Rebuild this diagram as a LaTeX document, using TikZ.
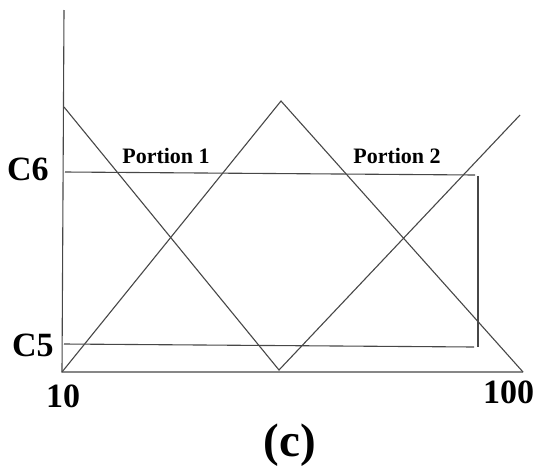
\documentclass[tikz,border=0pt]{standalone}
\usepackage{fontspec}
\setmainfont{Liberation Serif}
\begin{document}
\begin{tikzpicture}[x=1pt,y=-1pt,
  ln/.style={draw=black!72, line width=1.1pt},
  big/.style={font=\bfseries\fontsize{34}{34}\selectfont, inner sep=0pt},
  small/.style={font=\bfseries\fontsize{22}{22}\selectfont, inner sep=0pt},
  figcap/.style={font=\bfseries\fontsize{47}{47}\selectfont, inner sep=0pt}]
\useasboundingbox (0,0) rectangle (535,469);
% axes
\draw[ln] (64,10) -- (62,372) -- (523,372);
% triangular membership lines
\draw[ln] (64,107) -- (279,370) -- (520,115);
\draw[ln] (62,372) -- (281,101) -- (523,372);
% C6 and C5 levels
\draw[ln] (65,172) -- (475,175);
\draw[ln] (478,176) -- (478,347);
\draw[ln] (64,344) -- (474,347);
% labels
\node[big, anchor=base west] (c6) at (7,180) {C6};
\node[big, anchor=base west] (c5) at (12,356) {C5};
\node[big, anchor=base west] (x10) at (46,407) {10};
\node[big, anchor=base west] (x100) at (483,403) {100};
\node[small, anchor=base] (p1) at (166,163) {Portion 1};
\node[small, anchor=base] (p2) at (397,163) {Portion 2};
\node[figcap, anchor=base] (cc) at (290,456) {(c)};
\end{tikzpicture}
\end{document}
